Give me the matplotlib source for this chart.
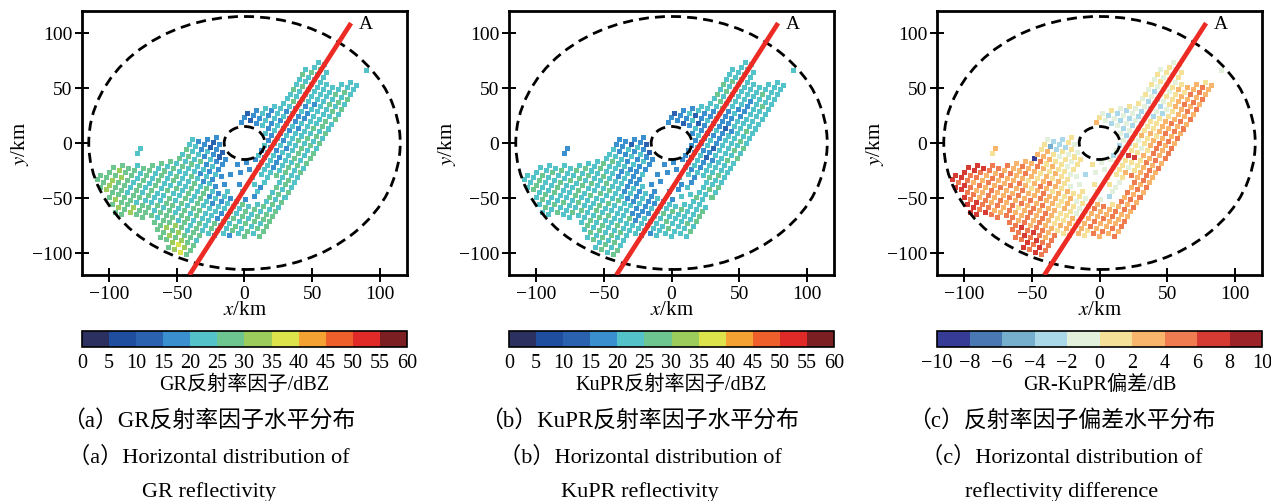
import numpy as np
import matplotlib
matplotlib.use('Agg')
import matplotlib.pyplot as plt
from matplotlib.colors import ListedColormap, BoundaryNorm
from matplotlib.patches import Circle

plt.rcParams['font.family'] = ['Liberation Serif', 'Noto Sans CJK SC']
plt.rcParams['mathtext.fontset'] = 'stix'

# footprint grid: one string per along-track scan,
# one character per cross-track bin ('.' = no echo, digit = colour class)
gr_rows = [
    "................5675........",
    "..............556765........",
    "......55.....5565655........",
    ".....565655.55656554........",
    "....5655655545565455........",
    "..56555545545554545443......",
    ".55655455445454554545443....",
    ".5565545454455454544544545..",
    "..55654545445454554435454545",
    "..56554545454454544434545455",
    "...5554545445454543445454545",
    ".....45545454454534345454555",
    ".......545454454543434545455",
    "....4...5454454343.4..3.4545",
    "....4....54544343.3..4.3.454",
    "..........54544343..3..4.545",
    "..........4545343.3...43.454",
    "..........5443433..3.4.4.545",
    "..........4434323.3.3.44.454",
    "..........433232...3.4445454",
    "............323.....34434544",
    ".............3......43434545",
    "....................34434454",
    "....................43344545",
    "....................34434545",
    "...............3...434344545",
    "...............3234343445454",
    "...............2334343344545",
    "................343433434454",
    ".................43443344545",
    "..................4434334454",
    "...................443434454",
    "...................454344445",
    "...................445434454",
    "...................544444545",
    "...................454444454",
    "...................445444545",
    "...................544444454",
    "...................4544..444",
    "....................454...44",
    "....................44......",
    "............................",
    "...........................4",
]

kupr_rows = [
    "................4545........",
    "..............454545........",
    "......44.....4545454........",
    ".....454544.45454544........",
    "....4545445445454454........",
    "..45454454454454454443......",
    ".44544544454454544444434....",
    ".4454454454445444453434444..",
    "..45445445454454443344445444",
    "..44544545445445443334454445",
    "...4454454544544334344544454",
    ".....44545445443434334454445",
    ".......454454443434343445445",
    "....3...4454434334.3..3.4445",
    "....3....45443433.3..3.4.444",
    "..........4544334..3..3.454",
    "..........4443433.3...34.445",
    "..........4334343..3.4.3.454",
    "..........3343433.3.3.43.445",
    "..........332432...3.4344544",
    "............332.....33434454",
    ".............3......32434444",
    "....................33423444",
    "....................34334454",
    "....................33424445",
    "...............3...343434454",
    "...............3323432334445",
    "...............2334233434454",
    "................342343323444",
    ".................34334334454",
    "..................4434334444",
    "...................445343444",
    "...................454433444",
    "...................544443444",
    "...................454443454",
    "...................545444444",
    "...................454444544",
    "...................445444444",
    "...................4454..444",
    "....................444...44",
    "....................44......",
    "............................",
    "...........................4",
]

diff_rows = [
    "................8787........",
    "..............778787........",
    "......88.....7787877........",
    ".....887877.77878767........",
    "....8787766776767767........",
    "..88776767676676766556......",
    ".87876676767567676566565....",
    ".8876767667676767655656576..",
    "..87767676676767665565676767",
    "..88767667676676656545676676",
    "...8876766765676656545667667",
    ".....77676656765656456766767",
    ".......766765676565546676766",
    "....5...6766565654.5..4.5676",
    "....6....66765655.4..5.3.767",
    "..........07565544..5..4.676",
    "..........6665545.3...54.767",
    "..........5654545..4.5.4.676",
    "..........5235455.5.4.55.767",
    "..........433354...4.5567676",
    "............354.....45545676",
    ".............5......34555676",
    "....................43885767",
    "....................34556676",
    "....................43545767",
    "...............6...435456767",
    "...............5434345656767",
    "...............4343435565676",
    "................534343556767",
    ".................43434556676",
    "..................5434356767",
    "...................543435676",
    "...................434345667",
    "...................543456676",
    "...................434556767",
    "...................545456676",
    "...................454565767",
    "...................545456676",
    "...................4545..676",
    "....................545...56",
    "....................45......",
    "............................",
    "...........................4",
]

gr_levels = list(range(0, 65, 5))          # dBZ
diff_levels = list(range(-10, 12, 2))      # dB
refl_colors = ['#2c3060', '#1f4e9e', '#2b62b0', '#3a8fcf', '#54c3c9', '#6dc58f',
               '#9bcc5c', '#dde34a', '#f4a232', '#ef5f2c', '#df2a27', '#7b1f22']
diff_colors = ['#363c96', '#4a78b2', '#76aecd', '#abd8e8', '#e3f0dc',
               '#f6e199', '#f8b56b', '#ef7b51', '#d63b33', '#9c2428']

# cross-section line A and radar rings (km)
line_x = [-40.7, 78.7]
line_y = [-120.0, 109.0]
ring_radii = [115, 15]

panel_cb_labels = ['GR反射率因子/dBZ', 'KuPR反射率因子/dBZ', 'GR-KuPR偏差/dB']
captions_cn = ['（a）GR反射率因子水平分布', '（b）KuPR反射率因子水平分布', '（c）反射率因子偏差水平分布']
captions_en1 = ['（a）Horizontal distribution of', '（b）Horizontal distribution of',
                '（c）Horizontal distribution of']
captions_en2 = ['GR reflectivity', 'KuPR reflectivity', 'reflectivity difference']

# swath grid geometry (km): origin on line A, along-track / cross-track unit vectors
P0 = np.array([21.8, 0.0])
U = np.array([0.4623, 0.8866])
V = np.array([0.8866, -0.4623])
STEP = 5.0
A0, C0 = -120.0, -105.0


def swath(rows, lo, width):
    xs, ys, vals = [], [], []
    for i, row in enumerate(rows):
        for k, ch in enumerate(row):
            if ch == '.':
                continue
            p = P0 + (A0 + STEP * i) * U + (C0 + STEP * k) * V
            xs.append(p[0])
            ys.append(p[1])
            vals.append(lo + width * (int(ch) + 0.5))
    return np.array(xs), np.array(ys), np.array(vals)


W, H = 1271, 502
fig = plt.figure(figsize=(W / 100, H / 100), dpi=100)

lefts = [82, 509, 937]
centers = [209, 640, 1062]
setups = [
    (gr_rows, 0, 5, gr_levels, refl_colors),
    (kupr_rows, 0, 5, gr_levels, refl_colors),
    (diff_rows, -10, 2, diff_levels, diff_colors),
]

for n, (rows, lo, width, levels, colors) in enumerate(setups):
    ax = fig.add_axes([lefts[n] / W, (H - 276) / H, 325 / W, 264 / H])
    cmap = ListedColormap(colors)
    norm = BoundaryNorm(levels, cmap.N)
    x, y, v = swath(rows, lo, width)
    sc = ax.scatter(x, y, c=v, cmap=cmap, norm=norm, marker='s', s=13, linewidths=0, zorder=2)

    for r in ring_radii:
        ax.add_patch(Circle((0, 0), r, fill=False, ec='black', lw=2.0,
                            ls=(0, (3.6, 2.2)), zorder=3))
    ax.plot(line_x, line_y, color='#ec2b25', lw=3.4, zorder=4, solid_capstyle='butt')
    ax.text(line_x[1] + 6, line_y[1], 'A', fontsize=14, ha='left', va='center')

    ax.set_xlim(-120, 120)
    ax.set_ylim(-120, 120)
    ax.set_xticks([-100, -50, 0, 50, 100])
    ax.set_yticks([-100, -50, 0, 50, 100])
    ax.tick_params(direction='inout', length=10, width=1.4, labelsize=14, pad=2)
    for sp in ax.spines.values():
        sp.set_linewidth(2.0)
    ax.set_xlabel('$x$/km', fontsize=15, labelpad=-1)
    ax.set_ylabel('$y$/km', fontsize=15, labelpad=1)

    cax = fig.add_axes([lefts[n] / W, (H - 348) / H, 325 / W, 16 / H])
    cb = fig.colorbar(sc, cax=cax, orientation='horizontal', ticks=levels)
    cb.outline.set_linewidth(1.2)
    cax.tick_params(length=0, labelsize=14.5, pad=4)
    cb.set_label(panel_cb_labels[n], fontsize=14.5, labelpad=2)

    fig.text(centers[n] / W, 1 - 421 / H, captions_cn[n], fontsize=16.5, ha='center', va='center')
    fig.text(centers[n] / W, 1 - 457 / H, captions_en1[n], fontsize=16, ha='center', va='center')
    fig.text(centers[n] / W, 1 - 492 / H, captions_en2[n], fontsize=16, ha='center', va='center')

fig.savefig('out.png', dpi=100)
